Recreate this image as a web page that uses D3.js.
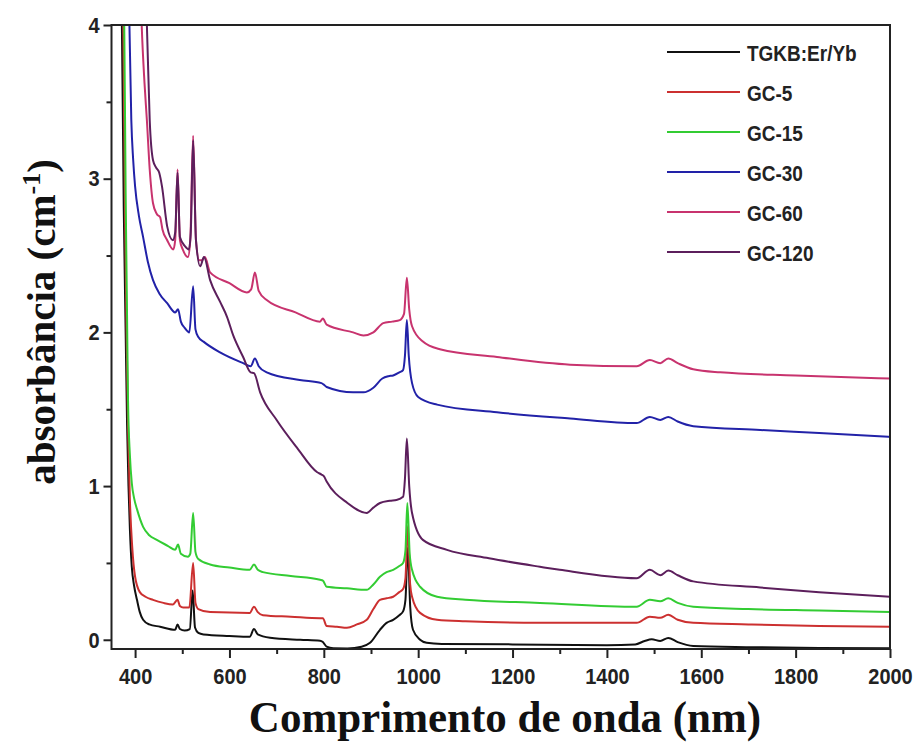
<!DOCTYPE html>
<html>
<head>
<meta charset="utf-8">
<script src="https://cdn.jsdelivr.net/npm/d3@7"></script>
<style>
  html, body { margin: 0; padding: 0; background: #fff; }
  svg { display: block; }
  .tick text { font-family: "Liberation Sans", Arial, sans-serif; font-weight: bold; fill: #222; }
  .title { font-family: "Liberation Serif", "Times New Roman", serif; font-weight: bold; fill: #111; }
  .legend text { font-family: "Liberation Sans", Arial, sans-serif; font-weight: bold; fill: #222; }
</style>
</head>
<body>
<svg id="chart" width="916" height="745"></svg>
<script>
// Absorption spectra: [wavelength (nm), absorbance (cm^-1)]
const seriesNames = ["TGKB:Er/Yb", "GC-5", "GC-15", "GC-30", "GC-60", "GC-120"];
const seriesColors = ["#111111", "#cc3030", "#33cc33", "#2222a8", "#c8336e", "#5c1f5c"];

const tgkb = [
  [370, 4.3], [372, 4.0], [376, 2.8], [380, 2.0], [383, 1.4], [386, 1.0], [389, 0.72], [393, 0.475],
  [398, 0.35], [404, 0.26], [410, 0.18], [417, 0.13], [430, 0.1], [453, 0.085], [485, 0.065],
  [490, 0.1], [495, 0.07], [505, 0.06], [516, 0.07], [522, 0.32], [527, 0.08], [534, 0.045],
  [545, 0.035], [600, 0.025], [643, 0.02], [652, 0.07], [660, 0.035], [686, 0.013], [750, 0.0],
  [792, -0.006], [798, -0.015], [806, -0.045], [820, -0.055], [850, -0.056], [880, -0.045],
  [898, -0.02], [919, 0.065], [933, 0.11], [947, 0.13], [960, 0.16], [968, 0.185], [973, 0.26],
  [978, 0.6], [983, 0.22], [989, 0.065], [1004, 0.0], [1018, -0.02], [1050, -0.027],
  [1200, -0.03], [1400, -0.035], [1460, -0.03], [1480, -0.008], [1495, 0.003], [1513, -0.008],
  [1530, 0.012], [1550, -0.015], [1583, -0.04], [1700, -0.048], [1850, -0.053], [2000, -0.055]
];

const gc5 = [
  [372, 4.3], [375, 4.0], [379, 2.7], [382, 2.0], [385, 1.4], [389, 0.91], [394, 0.6], [400, 0.41],
  [410, 0.31], [422, 0.28], [438, 0.26], [460, 0.24], [480, 0.23], [490, 0.26], [495, 0.22],
  [502, 0.21], [515, 0.21], [523, 0.5], [528, 0.24], [534, 0.2], [559, 0.18], [643, 0.175],
  [652, 0.215], [660, 0.18], [671, 0.16], [730, 0.15], [792, 0.14], [798, 0.14], [806, 0.09],
  [828, 0.085], [849, 0.078], [870, 0.1], [891, 0.13], [905, 0.2], [919, 0.26], [933, 0.27],
  [947, 0.28], [960, 0.31], [968, 0.33], [973, 0.4], [978, 0.74], [983, 0.36], [987, 0.28],
  [1004, 0.175], [1040, 0.13], [1100, 0.12], [1258, 0.11], [1463, 0.11], [1491, 0.15],
  [1513, 0.143], [1530, 0.163], [1550, 0.13], [1583, 0.11], [1700, 0.1], [1850, 0.09], [2000, 0.085]
];

const gc15 = [
  [374, 4.3], [377, 4.0], [380, 2.9], [383, 2.1], [385, 1.56], [389, 1.2], [393, 1.02], [398, 0.92],
  [404, 0.85], [417, 0.735], [430, 0.68], [446, 0.65], [470, 0.61], [485, 0.585], [491, 0.62],
  [497, 0.56], [512, 0.54], [517, 0.56], [523, 0.825], [528, 0.57], [534, 0.525], [559, 0.49],
  [600, 0.47], [643, 0.455], [652, 0.49], [660, 0.455], [671, 0.44], [730, 0.415], [792, 0.39],
  [798, 0.385], [806, 0.345], [849, 0.335], [891, 0.325], [905, 0.36], [919, 0.41], [933, 0.44],
  [947, 0.455], [960, 0.48], [968, 0.5], [973, 0.58], [977, 0.89], [982, 0.56], [987, 0.455],
  [1004, 0.345], [1040, 0.28], [1100, 0.26], [1258, 0.24], [1463, 0.215], [1491, 0.26],
  [1513, 0.25], [1530, 0.27], [1550, 0.24], [1583, 0.215], [1700, 0.2], [1850, 0.19], [2000, 0.18]
];

const gc30 = [
  [385, 4.3], [388, 4.0], [392, 3.38], [396, 3.12], [400, 2.95], [408, 2.76], [417, 2.62],
  [427, 2.46], [438, 2.34], [452, 2.25], [468, 2.19], [485, 2.13], [491, 2.15], [497, 2.07],
  [505, 2.03], [515, 2.0], [523, 2.3], [528, 2.02], [534, 1.97], [545, 1.94], [580, 1.87],
  [629, 1.8], [645, 1.78], [654, 1.83], [662, 1.78], [679, 1.74], [749, 1.69], [795, 1.67],
  [800, 1.66], [806, 1.645], [862, 1.61], [884, 1.61], [905, 1.64], [924, 1.7], [937, 1.715],
  [947, 1.72], [960, 1.74], [968, 1.755], [972, 1.85], [976, 2.08], [980, 1.85], [987, 1.67],
  [1000, 1.58], [1040, 1.53], [1167, 1.48], [1322, 1.44], [1463, 1.41], [1491, 1.45],
  [1513, 1.43], [1530, 1.45], [1550, 1.42], [1583, 1.39], [1725, 1.365], [1850, 1.345], [2000, 1.32]
];

const gc60 = [
  [411, 4.3], [414, 4.0], [420, 3.62], [425, 3.38], [431, 3.06], [438, 2.84], [446, 2.77],
  [453, 2.75], [458, 2.67], [468, 2.6], [481, 2.54], [485, 2.6], [490, 3.06], [495, 2.6],
  [501, 2.54], [512, 2.49], [517, 2.6], [523, 3.28], [529, 2.6], [536, 2.47], [542, 2.47],
  [548, 2.49], [559, 2.39], [600, 2.32], [637, 2.26], [646, 2.28], [654, 2.39], [662, 2.27],
  [679, 2.21], [740, 2.13], [792, 2.07], [798, 2.09], [806, 2.05], [862, 2.0], [884, 1.98],
  [905, 2.0], [926, 2.06], [945, 2.07], [961, 2.08], [970, 2.12], [976, 2.355], [981, 2.15],
  [987, 2.04], [1010, 1.94], [1046, 1.89], [1167, 1.84], [1322, 1.79], [1463, 1.78], [1491, 1.82],
  [1513, 1.8], [1530, 1.83], [1550, 1.8], [1583, 1.76], [1640, 1.74], [1800, 1.72], [2000, 1.7]
];

const gc120 = [
  [421, 4.3], [425, 4.0], [431, 3.38], [438, 3.12], [445, 3.07], [451, 3.04], [457, 2.95],
  [468, 2.69], [480, 2.6], [485, 2.65], [490, 3.04], [495, 2.62], [506, 2.56], [514, 2.54],
  [518, 2.65], [523, 3.25], [529, 2.6], [538, 2.43], [546, 2.49], [559, 2.34], [580, 2.2],
  [595, 2.1], [608, 1.98], [629, 1.84], [645, 1.74], [652, 1.735], [665, 1.61], [700, 1.43],
  [743, 1.25], [786, 1.09], [795, 1.075], [800, 1.065], [806, 1.03], [850, 0.89], [891, 0.825],
  [905, 0.86], [919, 0.89], [940, 0.905], [954, 0.91], [968, 0.93], [972, 1.05], [976, 1.31],
  [981, 1.0], [987, 0.825], [1010, 0.65], [1061, 0.585], [1150, 0.53], [1258, 0.475],
  [1300, 0.455], [1463, 0.4], [1491, 0.455], [1513, 0.42], [1530, 0.45], [1550, 0.42],
  [1583, 0.38], [1725, 0.34], [1850, 0.31], [2000, 0.28]
];

const spectra = [tgkb, gc5, gc15, gc30, gc60, gc120];

const xTicks = [400, 600, 800, 1000, 1200, 1400, 1600, 1800, 2000];
const xMinorTicks = [500, 700, 900, 1100, 1300, 1500, 1700, 1900];
const yTicks = [0, 1, 2, 3, 4];
const yMinorTicks = [0.5, 1.5, 2.5, 3.5];

const svg = d3.select("#chart");
const plot = { left: 111.5, right: 890, top: 25, bottom: 649 };

const x = d3.scaleLinear().domain([350, 2000]).range([plot.left, plot.right]);
const y = d3.scaleLinear().domain([-0.06, 4]).range([plot.bottom, plot.top]);

svg.append("defs").append("clipPath").attr("id", "plot-clip")
  .append("rect")
  .attr("x", plot.left).attr("y", plot.top)
  .attr("width", plot.right - plot.left).attr("height", plot.bottom - plot.top);

// Spectra
const line = d3.line()
  .x(d => x(d[0]))
  .y(d => y(d[1]))
  .curve(d3.curveMonotoneX);

svg.append("g").attr("clip-path", "url(#plot-clip)")
  .selectAll("path")
  .data(spectra)
  .join("path")
  .attr("d", line)
  .attr("fill", "none")
  .attr("stroke", (d, i) => seriesColors[i])
  .attr("stroke-width", 2)
  .attr("stroke-linejoin", "round");

// Axes
const styleAxis = g => {
  g.select(".domain").remove();
  g.selectAll(".tick line").attr("stroke", "#222").attr("stroke-width", 2);
};
// tick labels are drawn slightly tall
const tallText = sel => sel.style("font-size", "20px").attr("transform", "scale(1,1.13)");

svg.append("g")
  .attr("transform", `translate(0,${plot.bottom})`)
  .call(d3.axisBottom(x).tickValues(xMinorTicks).tickSize(5).tickFormat(""))
  .call(styleAxis);
svg.append("g")
  .attr("transform", `translate(0,${plot.bottom})`)
  .call(d3.axisBottom(x).tickValues(xTicks).tickSize(9).tickPadding(8).tickFormat(d3.format("d")))
  .call(styleAxis)
  .selectAll("text").call(tallText);

svg.append("g")
  .attr("transform", `translate(${plot.left},0)`)
  .call(d3.axisLeft(y).tickValues(yMinorTicks).tickSize(5).tickFormat(""))
  .call(styleAxis);
svg.append("g")
  .attr("transform", `translate(${plot.left},0)`)
  .call(d3.axisLeft(y).tickValues(yTicks).tickSize(8).tickPadding(4).tickFormat(d3.format("d")))
  .call(styleAxis)
  .selectAll("text").call(tallText);

// Frame
svg.append("rect")
  .attr("x", plot.left).attr("y", plot.top)
  .attr("width", plot.right - plot.left).attr("height", plot.bottom - plot.top)
  .attr("fill", "none").attr("stroke", "#222").attr("stroke-width", 2);

// Axis titles
svg.append("text").attr("class", "title")
  .attr("transform", "translate(505,732) scale(1,1.05)")
  .attr("text-anchor", "middle")
  .style("font-size", "43px")
  .text("Comprimento de onda (nm)");

const yt = svg.append("text").attr("class", "title")
  .attr("transform", "translate(55,322) rotate(-90)")
  .attr("text-anchor", "middle")
  .style("font-size", "41px");
yt.append("tspan").text("absorbância (cm");
yt.append("tspan").attr("dy", -15).style("font-size", "26px").text("-1");
yt.append("tspan").attr("dy", 15).text(")");

// Legend
const legend = svg.append("g").attr("class", "legend")
  .selectAll("g")
  .data(seriesNames)
  .join("g")
  .attr("transform", (d, i) => `translate(667,${52 + i * 40})`);
legend.append("line")
  .attr("x1", 0).attr("x2", 73)
  .attr("stroke", (d, i) => seriesColors[i])
  .attr("stroke-width", 2);
legend.append("text")
  .attr("transform", "translate(80,9) scale(1,1.12)")
  .style("font-size", "19px")
  .text(d => d);
</script>
</body>
</html>
